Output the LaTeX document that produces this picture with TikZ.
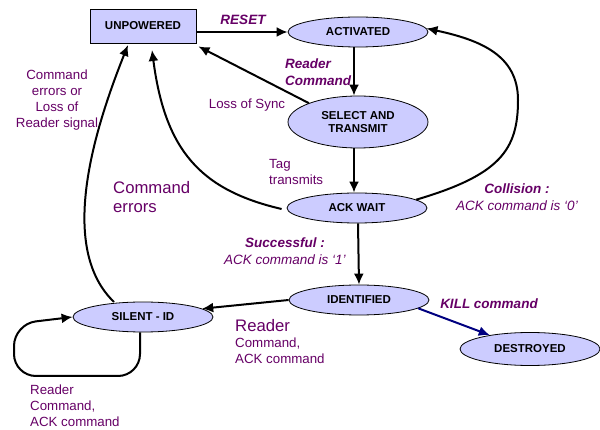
\documentclass[tikz,border=0pt]{standalone}
\usepackage{fontspec}
\setmainfont{Liberation Sans}
\usetikzlibrary{arrows.meta,shapes.geometric}
\definecolor{statefill}{RGB}{204,204,255}
\definecolor{labelpurple}{RGB}{102,0,102}
\definecolor{killblue}{RGB}{0,0,128}
\begin{document}
\begin{tikzpicture}[x=1pt,y=-1pt,
  state/.style={ellipse,draw,fill=statefill,line width=0.8pt,minimum width=140pt,
    minimum height=30pt,inner sep=0pt,align=center,
    font=\fontsize{11.5}{13.5}\selectfont\bfseries},
  boxstate/.style={rectangle,draw,fill=statefill,line width=0.9pt,minimum width=106pt,
    minimum height=34pt,inner sep=0pt,font=\fontsize{11.5}{13.5}\selectfont\bfseries},
  trans/.style={line width=2pt,-{Latex[length=11pt,width=10pt]}},
  lbl/.style={text=labelpurple,inner sep=0pt,font=\fontsize{13.3}{16}\selectfont},
  lblbig/.style={text=labelpurple,inner sep=0pt,font=\fontsize{16.7}{19.5}\selectfont},
  lblbi/.style={text=labelpurple,inner sep=0pt,font=\fontsize{13.5}{16.5}\selectfont\bfseries\itshape},
  lbli/.style={text=labelpurple,inner sep=0pt,font=\fontsize{13.5}{16.5}\selectfont\itshape}]
\useasboundingbox (0,0) rectangle (600,430);

% states
\node[boxstate] (unp) at (143,26) {UNPOWERED};
\node[state] (act) at (358,32) {ACTIVATED};
\node[state,minimum height=52pt] (sel) at (358,122) {SELECT AND\\TRANSMIT};
\node[state] (ack) at (357,208) {ACK WAIT};
\node[state] (ident) at (359,300) {IDENTIFIED};
\node[state,minimum height=33pt] (dest) at (530,349) {DESTROYED};
\node[state] (silent) at (143,317) {SILENT - ID};

% transitions
\draw[trans] (unp.east |- act.west) -- (act.west);
\draw[trans] ([xshift=-4pt]act.south) -- ([xshift=-4pt]sel.north);
\draw[trans] (sel.159) -- ([xshift=2pt,yshift=-3pt]unp.south east);
\draw[trans] ([xshift=-4pt]sel.south) -- ([xshift=-3pt]ack.north);
\draw[trans] ([xshift=-5pt,yshift=-1pt]ack.west) .. controls (200,190) and (165,150) .. (152,50);
\draw[trans] (114,302) .. controls (60,250) and (90,140) .. (128,45);
\draw[trans] (ack.8) .. controls (500,175) and (518,150) .. (518,100)
  .. controls (518,55) and (480,40) .. (act.3);
\draw[trans] ([xshift=1pt]ack.south) -- (ident.north);
\draw[trans] (ident.west) -- (silent.8);
\draw[trans,killblue] (ident.-8) -- (dest.161);
\draw[trans,rounded corners=22pt] ([xshift=-3pt]silent.south) -- (140,376) -- (14,376)
  -- (14,324) -- (silent.west);

% transition labels
\node[lblbi] (lreset) at (243,20) {RESET};
\node[lblbi,anchor=west,align=left] (lreader) at (285,72) {Reader\\Command};
\node[lbl] (lsync) at (247,105) {Loss of Sync};
\node[lbl,anchor=west,align=left] (ltag) at (269,172) {Tag\\transmits};
\node[lblbig,anchor=west,align=left] (lcmderr) at (113,197) {Command\\errors};
\node[lbl,align=center] (lsigloss) at (57,100) {Command\\errors or\\Loss of\\Reader signal};
\node[lbli,align=center] (lcoll) at (517,197) {\textbf{Collision :}\\ACK command is ‘0’};
\node[lbli,align=center] (lsucc) at (285,251) {\textbf{Successful :}\\ACK command is ‘1’};
\node[lblbi] (lkill) at (489,304) {KILL command};
\node[lbl,anchor=west,align=left] (lrdack) at (235,342)
  {{\fontsize{16.7}{19}\selectfont Reader}\\Command,\\ACK command};
\node[lbl,anchor=west,align=left] (lloop) at (30,406) {Reader\\Command,\\ACK command};
\end{tikzpicture}
\end{document}
